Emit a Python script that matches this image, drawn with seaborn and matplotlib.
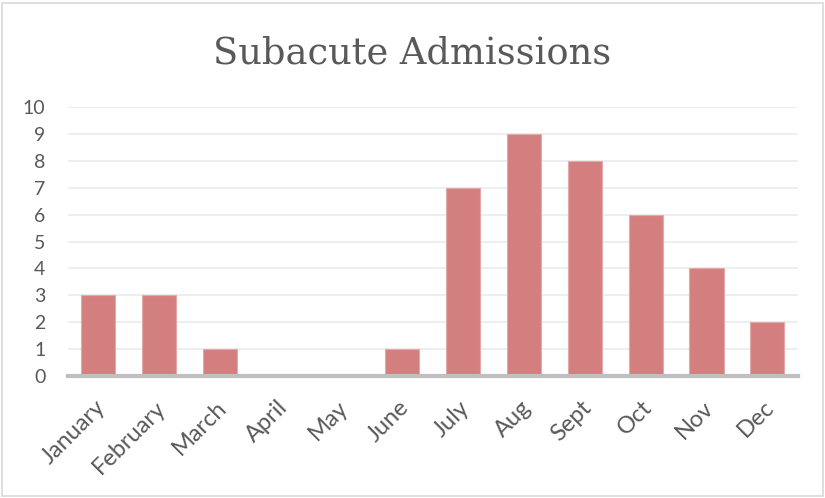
import matplotlib
matplotlib.use("Agg")
import matplotlib.pyplot as plt
import matplotlib.transforms as mtransforms
import seaborn as sns
import pandas as pd

months = ["January", "February", "March", "April", "May", "June",
          "July", "Aug", "Sept", "Oct", "Nov", "Dec"]
admissions = [3, 3, 1, 0, 0, 1, 7, 9, 8, 6, 4, 2]
y_ticks = list(range(0, 11))

df = pd.DataFrame({"month": months, "admissions": admissions})

sns.set_style("white")
plt.rcParams["font.family"] = ["Lato", "DejaVu Sans"]

fig = plt.figure(figsize=(8.25, 4.98), dpi=100)
ax = fig.add_axes([0.082, 0.245, 0.885, 0.54])

sns.barplot(data=df, x="month", y="admissions", color="#d47f7f",
            width=0.56, saturation=1, edgecolor="#e4a9a9", linewidth=0.8,
            ax=ax, zorder=3)

ax.set_ylim(0, 10)
ax.set_yticks(y_ticks)
ax.set_xlim(-0.5, 11.5)
ax.grid(axis="y", color="#ebebeb", linewidth=1.2, zorder=0)
ax.set_axisbelow(True)
for s in ["top", "right", "left"]:
    ax.spines[s].set_visible(False)
ax.spines["bottom"].set_color("#bfbfbf")
ax.spines["bottom"].set_linewidth(3)
ax.spines["bottom"].set_zorder(4)
ax.tick_params(axis="both", length=0, colors="#595959")
ax.tick_params(axis="y", labelsize=14, pad=16)
ax.tick_params(axis="x", labelsize=17, pad=15)
# nudge rotated month labels a bit left so they end under the bar centre
shift = mtransforms.ScaledTranslation(-4 / 100, 0, fig.dpi_scale_trans)
for lbl in ax.get_xticklabels():
    lbl.set_rotation(45)
    lbl.set_ha("right")
    lbl.set_rotation_mode("anchor")
    lbl.set_transform(lbl.get_transform() + shift)
ax.set_xlabel("")
ax.set_ylabel("")

fig.text(0.5, 1 - 63 / 498, "Subacute Admissions", ha="center", va="baseline",
         fontsize=26.5, color="#595959", family=["DejaVu Serif"])

border = plt.Rectangle((0.003, 0.004), 0.994, 0.99, transform=fig.transFigure,
                       fill=False, edgecolor="#d9d9d9", linewidth=1.2)
fig.patches.append(border)

fig.savefig("out.png", dpi=100)
